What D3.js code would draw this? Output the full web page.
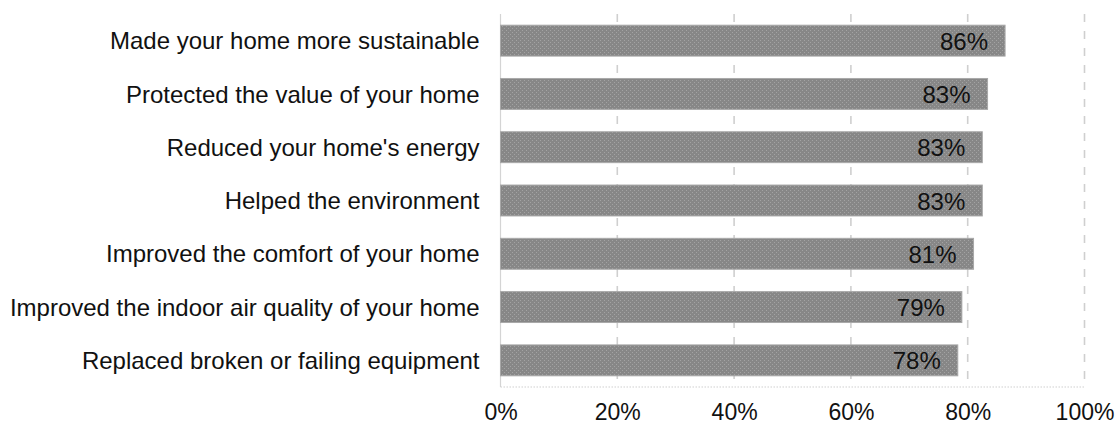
<!DOCTYPE html>
<html>
<head>
<meta charset="utf-8">
<script src="https://cdn.jsdelivr.net/npm/d3@7"></script>
<style>
  html, body { margin: 0; padding: 0; background: #ffffff; }
  svg { display: block; }
  text { font-family: "Liberation Sans", Arial, sans-serif; fill: #111; }
</style>
</head>
<body>
<svg id="chart" width="1117" height="426"></svg>
<script>
const categories = [
  "Made your home more sustainable",
  "Protected the value of your home",
  "Reduced your home's energy",
  "Helped the environment",
  "Improved the comfort of your home",
  "Improved the indoor air quality of your home",
  "Replaced broken or failing equipment"
];
const values = [86.4, 83.4, 82.5, 82.5, 81.0, 79.0, 78.3];
const valueLabels = ["86%", "83%", "83%", "83%", "81%", "79%", "78%"];
const tickValues = [0, 20, 40, 60, 80, 100];
const tickLabels = ["0%", "20%", "40%", "60%", "80%", "100%"];

const svg = d3.select("#chart");
const margin = { left: 500.5, right: 32.5, top: 14, bottom: 39 };
const W = 1117, H = 426;

const defs = svg.append("defs");
const pat = defs.append("pattern")
  .attr("id", "tex").attr("patternUnits", "userSpaceOnUse")
  .attr("width", 4).attr("height", 4);
pat.append("rect").attr("width", 4).attr("height", 4).attr("fill", "#878787");
pat.append("rect").attr("x", 0).attr("y", 0).attr("width", 1).attr("height", 1).attr("fill", "#a3a3a3");
pat.append("rect").attr("x", 2).attr("y", 2).attr("width", 1).attr("height", 1).attr("fill", "#a3a3a3");

const x = d3.scaleLinear().domain([0, 100]).range([margin.left, W - margin.right]);
const y = d3.scaleBand().domain(categories)
  .range([margin.top, H - margin.bottom])
  .paddingInner(0.42).paddingOuter(0.21);

// gridlines
svg.append("g").selectAll("line")
  .data(tickValues.filter(d => d > 0))
  .join("line")
  .attr("x1", d => x(d)).attr("x2", d => x(d))
  .attr("y1", margin.top).attr("y2", H - margin.bottom)
  .attr("stroke", "#cfcfcf").attr("stroke-width", 1.6)
  .attr("stroke-dasharray", "8,9");

// left axis line
svg.append("line")
  .attr("x1", x(0)).attr("x2", x(0))
  .attr("y1", margin.top).attr("y2", H - margin.bottom)
  .attr("stroke", "#d4d4d4").attr("stroke-width", 1.2);

// bottom axis line (dotted)
svg.append("line")
  .attr("x1", x(0)).attr("x2", x(100))
  .attr("y1", H - margin.bottom).attr("y2", H - margin.bottom)
  .attr("stroke", "#d0d0d0").attr("stroke-width", 1.2)
  .attr("stroke-dasharray", "1.5,1.5");

// bars
svg.append("g").selectAll("rect")
  .data(categories)
  .join("rect")
  .attr("x", x(0))
  .attr("y", d => y(d))
  .attr("width", (d, i) => x(values[i]) - x(0))
  .attr("height", y.bandwidth())
  .attr("fill", "url(#tex)")
  .attr("stroke", "#a8a8a8").attr("stroke-width", 1);

// value labels
svg.append("g").selectAll("text")
  .data(categories)
  .join("text")
  .attr("x", (d, i) => x(values[i]) - 17)
  .attr("y", d => y(d) + y.bandwidth() / 2)
  .attr("dy", "0.38em")
  .attr("text-anchor", "end")
  .attr("font-size", 24)
  .text((d, i) => valueLabels[i]);

// category labels
const yAxis = d3.axisLeft(y).tickSize(0).tickPadding(21);
const gy = svg.append("g").attr("transform", `translate(${x(0)},0)`).call(yAxis);
gy.select(".domain").remove();
gy.selectAll("text")
  .attr("font-size", 24)
  .attr("font-family", "Liberation Sans, Arial, sans-serif")
  .attr("fill", "#111")
  .attr("dy", "0.36em");

// x tick labels
const xAxis = d3.axisBottom(x).tickValues(tickValues)
  .tickFormat((d, i) => tickLabels[i]).tickSize(0).tickPadding(17);
const gx = svg.append("g").attr("transform", `translate(0,${H - margin.bottom})`).call(xAxis);
gx.select(".domain").remove();
gx.selectAll("text")
  .attr("font-size", 23)
  .attr("font-family", "Liberation Sans, Arial, sans-serif")
  .attr("fill", "#111");
</script>
</body>
</html>
